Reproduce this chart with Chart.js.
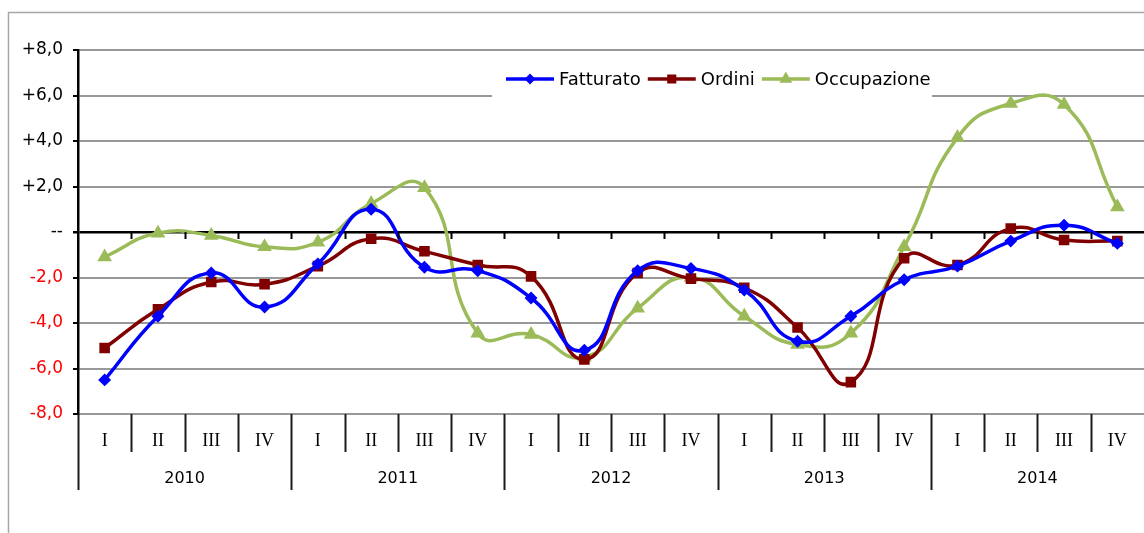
<!DOCTYPE html>
<html>
<head>
<meta charset="utf-8">
<script src="https://cdn.jsdelivr.net/npm/chart.js@4.4.1/dist/chart.umd.min.js"></script>
<style>
  html, body { margin: 0; padding: 0; background: #fff; overflow: hidden; }
</style>
</head>
<body>
<canvas id="chart" width="1144" height="533"></canvas>
<script>
const years = ['2010', '2011', '2012', '2013', '2014'];
const quarters = ['I', 'II', 'III', 'IV'];
const labels = years.flatMap(() => quarters);

const fatturato = [-6.5, -3.7, -1.8, -3.3, -1.4, 1.0, -1.55, -1.7, -2.9, -5.2,
                   -1.7, -1.6, -2.55, -4.8, -3.7, -2.1, -1.5, -0.4, 0.3, -0.5];
const ordini = [-5.1, -3.4, -2.2, -2.3, -1.5, -0.3, -0.85, -1.45, -1.95, -5.6,
                -1.8, -2.05, -2.45, -4.2, -6.6, -1.15, -1.45, 0.15, -0.35, -0.4];
const occupazione = [-1.1, -0.05, -0.15, -0.65, -0.45, 1.25, 1.95, -4.45, -4.5, -5.5,
                     -3.35, -2.0, -3.7, -4.95, -4.45, -0.65, 4.15, 5.65, 5.6, 1.1];

const SANS = 'DejaVu Sans';

// frame, multi-level category axis and in-plot legend
const decor = {
  id: 'decor',
  beforeDraw(chart) {
    const ctx = chart.ctx;
    ctx.save();
    ctx.strokeStyle = '#a6a6a6';
    ctx.lineWidth = 1.5;
    ctx.beginPath();
    ctx.moveTo(8.5, 533);
    ctx.lineTo(8.5, 12.5);
    ctx.lineTo(1144, 12.5);
    ctx.stroke();
    ctx.restore();
  },
  afterDraw(chart) {
    const ctx = chart.ctx;
    const area = chart.chartArea;
    const x = chart.scales.x;
    const y = chart.scales.y;
    const n = labels.length;
    const edge = i => {
      if (i === 0) return area.left;
      if (i === n) return area.right;
      return (x.getPixelForValue(i - 1) + x.getPixelForValue(i)) / 2;
    };
    ctx.save();
    // separators under the axis (the last one falls off the canvas)
    ctx.strokeStyle = '#1a1a1a';
    ctx.lineWidth = 2;
    for (let i = 0; i < n; i++) {
      const px = Math.round(edge(i)) + 0.5;
      ctx.beginPath();
      ctx.moveTo(px, area.bottom);
      ctx.lineTo(px, i % 4 === 0 ? 490 : 452);
      ctx.stroke();
    }
    // small ticks on the zero line
    const y0 = y.getPixelForValue(0);
    ctx.strokeStyle = '#000';
    for (let i = 1; i < n; i++) {
      const px = Math.round(edge(i)) + 0.5;
      ctx.beginPath();
      ctx.moveTo(px, y0);
      ctx.lineTo(px, y0 + 7);
      ctx.stroke();
    }
    // year labels
    ctx.fillStyle = '#000';
    ctx.font = '16px "' + SANS + '"';
    ctx.textAlign = 'center';
    ctx.textBaseline = 'middle';
    years.forEach((yr, k) => {
      const cx = (edge(k * 4) + edge(k * 4 + 4)) / 2;
      ctx.fillText(yr, cx, 479);
    });

    // legend
    ctx.fillStyle = '#fff';
    ctx.fillRect(492, 62, 440, 36);
    ctx.font = '18px "' + SANS + '"';
    ctx.textAlign = 'left';
    let lx = 506;
    const ly = 79;
    chart.data.datasets.forEach(ds => {
      ctx.strokeStyle = ds.borderColor;
      ctx.lineWidth = 3.5;
      ctx.beginPath();
      ctx.moveTo(lx, ly);
      ctx.lineTo(lx + 48, ly);
      ctx.stroke();
      ctx.fillStyle = ds.backgroundColor;
      ctx.strokeStyle = ds.borderColor;
      Chart.helpers.drawPoint(ctx, {
        pointStyle: ds.pointStyle, radius: ds.pointRadius - 1, rotation: 0, borderWidth: 1
      }, lx + 24, ly);
      ctx.fillStyle = '#000';
      ctx.fillText(ds.label, lx + 53, ly + 1);
      lx += 53 + ctx.measureText(ds.label).width + 7;
    });
    ctx.restore();
  }
};

new Chart(document.getElementById('chart'), {
  type: 'line',
  data: {
    labels: labels,
    datasets: [{
      label: 'Fatturato',
      data: fatturato,
      borderColor: '#0000ff',
      backgroundColor: '#0000ff',
      pointStyle: 'rectRot',
      pointRadius: 4,
      borderWidth: 3.5
    }, {
      label: 'Ordini',
      data: ordini,
      borderColor: '#800000',
      backgroundColor: '#800000',
      pointStyle: 'rect',
      pointRadius: 5,
      borderWidth: 3.5
    }, {
      label: 'Occupazione',
      data: occupazione,
      borderColor: '#9bbb59',
      backgroundColor: '#9bbb59',
      pointStyle: 'triangle',
      pointRadius: 5,
      borderWidth: 3.5
    }]
  },
  options: {
    responsive: false,
    animation: false,
    devicePixelRatio: 1,
    layout: { autoPadding: false, padding: { top: 50, left: 0, right: -1, bottom: 0 } },
    elements: { line: { tension: 0.5 } },
    plugins: { legend: { display: false }, tooltip: { enabled: false } },
    scales: {
      x: {
        type: 'category',
        offset: true,
        grid: { display: false, drawTicks: false },
        border: { display: false },
        ticks: {
          color: '#000',
          font: { family: 'Liberation Serif', size: 18 },
          padding: 16,
          autoSkip: false,
          maxRotation: 0
        },
        afterFit: s => { s.height = 119; s.paddingLeft = 0; s.paddingRight = 0; }
      },
      y: {
        min: -8,
        max: 8,
        ticks: {
          stepSize: 2,
          padding: 10,
          font: { family: SANS, size: 17 },
          color: c => c.tick.value < 0 ? '#ff0000' : '#000',
          callback: v => v === 0 ? '--' : (v > 0 ? '+' : '') + v.toFixed(1).replace('.', ',')
        },
        grid: {
          color: c => c.tick.value === 0 ? '#000' : '#999',
          lineWidth: c => c.tick.value === 0 ? 2.5 : 2,
          tickColor: '#000',
          tickLength: 5
        },
        border: { color: '#000', width: 2.5 },
        afterFit: s => { s.width = 78; }
      }
    }
  },
  plugins: [decor]
});
</script>
</body>
</html>
